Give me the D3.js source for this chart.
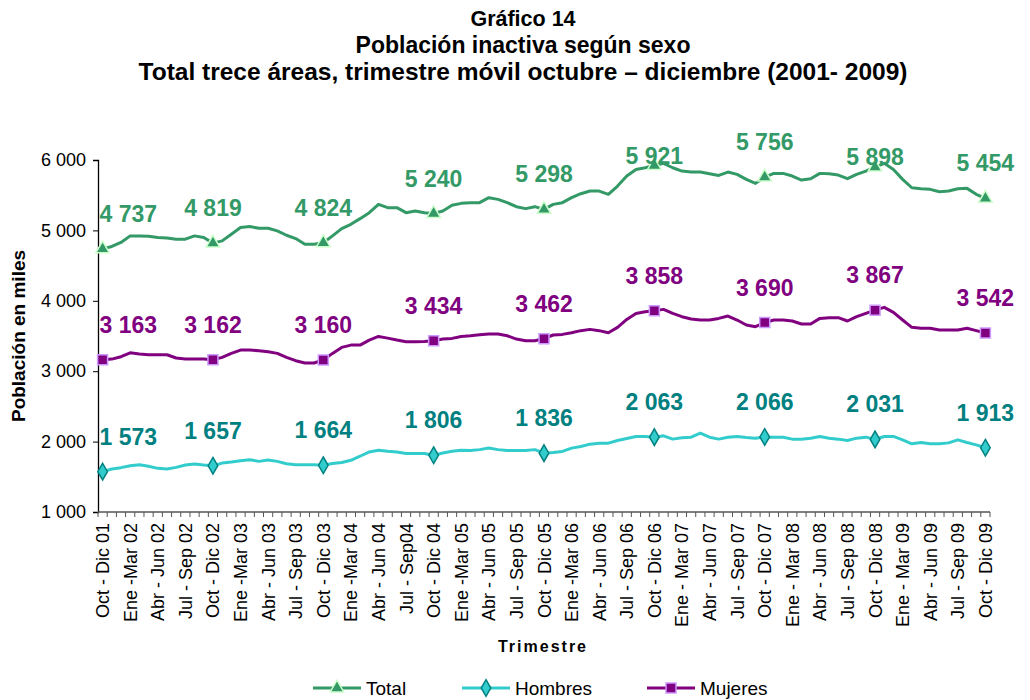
<!DOCTYPE html>
<html>
<head>
<meta charset="utf-8">
<script src="https://cdn.jsdelivr.net/npm/d3@7"></script>
<style>
  body { margin: 0; background: #fff; }
  svg { font-family: "Liberation Sans", Arial, sans-serif; }
</style>
</head>
<body>
<div id="chart"></div>
<script>
// moving quarters, Oct-Dic 2001 .. Oct-Dic 2009 (97 periods, one per month)
const periods = d3.range(97);

const tickLabels = [
  'Oct - Dic 01', 'Ene -Mar 02', 'Abr - Jun 02', 'Jul - Sep 02',
  'Oct - Dic 02', 'Ene -Mar 03', 'Abr - Jun 03', 'Jul - Sep 03',
  'Oct - Dic 03', 'Ene -Mar 04', 'Abr - Jun 04', 'Jul - Sep04',
  'Oct - Dic 04', 'Ene -Mar 05', 'Abr - Jun 05', 'Jul - Sep 05',
  'Oct - Dic 05', 'Ene -Mar 06', 'Abr - Jun 06', 'Jul - Sep 06',
  'Oct - Dic 06', 'Ene - Mar 07', 'Abr - Jun 07', 'Jul - Sep 07',
  'Oct - Dic 07', 'Ene - Mar 08', 'Abr - Jun 08', 'Jul - Sep 08',
  'Oct - Dic 08', 'Ene - Mar 09', 'Abr - Jun 09', 'Jul - Sep 09',
  'Oct - Dic 09'
];

const yTicks = [1000, 2000, 3000, 4000, 5000, 6000];

// miles de personas
const total = [
  4737, 4772, 4829, 4922, 4922, 4917, 4898, 4893, 4875, 4875, 4922, 4898,
  4819, 4851, 4946, 5040, 5054, 5030, 5030, 4993, 4931, 4884, 4804, 4804,
  4824, 4922, 5026, 5087, 5167, 5252, 5370, 5323, 5323, 5252, 5276, 5252,
  5240, 5276, 5356, 5384, 5394, 5394, 5465, 5441, 5394, 5337, 5309, 5337,
  5298, 5370, 5394, 5465, 5521, 5559, 5559, 5512, 5630, 5772, 5866, 5890,
  5921, 5953, 5890, 5843, 5829, 5829, 5805, 5781, 5829, 5796, 5725, 5668,
  5756, 5810, 5810, 5772, 5715, 5734, 5810, 5805, 5786, 5734, 5796, 5843,
  5898, 5953, 5866, 5725, 5606, 5592, 5583, 5550, 5559, 5592, 5597, 5512,
  5454
];

const hombres = [
  1573, 1611, 1630, 1658, 1672, 1649, 1620, 1611, 1634, 1668, 1682, 1668,
  1657, 1695, 1709, 1728, 1743, 1719, 1738, 1719, 1685, 1671, 1671, 1671,
  1664, 1688, 1702, 1735, 1792, 1853, 1877, 1863, 1853, 1830, 1830, 1830,
  1806, 1839, 1863, 1877, 1872, 1886, 1910, 1886, 1872, 1872, 1872, 1886,
  1836, 1845, 1860, 1907, 1931, 1964, 1978, 1978, 2016, 2044, 2073, 2073,
  2063, 2082, 2035, 2054, 2063, 2120, 2063, 2035, 2063, 2073, 2058, 2049,
  2066, 2063, 2063, 2035, 2035, 2049, 2073, 2049, 2035, 2016, 2049, 2063,
  2031, 2073, 2073, 2025, 1968, 1987, 1968, 1968, 1982, 2025, 1987, 1954,
  1913
];

const mujeres = [
  3163, 3172, 3206, 3262, 3243, 3234, 3234, 3234, 3187, 3172, 3172, 3172,
  3162, 3196, 3253, 3300, 3300, 3291, 3277, 3253, 3196, 3149, 3116, 3116,
  3160, 3253, 3338, 3371, 3371, 3442, 3494, 3470, 3442, 3418, 3418, 3423,
  3434, 3456, 3466, 3494, 3504, 3518, 3527, 3527, 3504, 3456, 3432, 3432,
  3462, 3514, 3523, 3547, 3576, 3594, 3576, 3547, 3623, 3736, 3821, 3845,
  3858, 3878, 3821, 3774, 3741, 3727, 3727, 3750, 3784, 3727, 3656, 3632,
  3690, 3727, 3727, 3713, 3670, 3670, 3750, 3760, 3760, 3713, 3774, 3821,
  3867, 3907, 3836, 3727, 3623, 3609, 3609, 3585, 3585, 3585, 3609, 3576,
  3542
];

const seriesNames = ['Total', 'Hombres', 'Mujeres'];

const width = 1030;
const height = 700;
const margin = {top: 160, right: 40, bottom: 188, left: 98};

const styles = {
  Total:   {line: '#339966', fill: '#339966', stroke: '#ccffcc', label: '#339966', symbol: d3.symbolTriangle, size: 80},
  Hombres: {line: '#33cccc', fill: '#33cccc', stroke: '#008080', label: '#008080', symbol: d3.symbolDiamond, size: 80},
  Mujeres: {line: '#800080', fill: '#800080', stroke: '#cc99ff', label: '#800080', symbol: d3.symbolSquare, size: 100}
};

const locale = d3.formatLocale({decimal: ',', thousands: ' ', grouping: [3], currency: ['', '']});
const fmt = locale.format(',d');

const svg = d3.select('#chart').append('svg')
  .attr('width', width)
  .attr('height', height);

// titles
const titles = ['Gráfico 14', 'Población inactiva según sexo',
  'Total trece áreas, trimestre móvil octubre – diciembre (2001- 2009)'];
const titleSizes = [21.5, 23, 24.5];
svg.append('g').selectAll('text')
  .data(titles)
  .join('text')
    .attr('x', 523)
    .attr('y', (d, i) => 26 + i * 27)
    .attr('text-anchor', 'middle')
    .attr('font-size', (d, i) => titleSizes[i])
    .attr('font-weight', 'bold')
    .text(d => d);

const x = d3.scaleBand()
  .domain(periods)
  .range([margin.left, width - margin.right])
  .padding(0);
const xc = i => x(i) + x.bandwidth() / 2;

const y = d3.scaleLinear()
  .domain([1000, 6000])
  .range([height - margin.bottom, margin.top]);

// y axis
const yAxis = svg.append('g')
  .attr('transform', `translate(${margin.left},0)`)
  .call(d3.axisLeft(y).tickValues(yTicks).tickFormat(fmt).tickSize(5).tickPadding(7));
yAxis.select('.domain').attr('stroke', '#000').attr('stroke-width', 1.3);
yAxis.selectAll('.tick line').attr('stroke', '#000');
yAxis.selectAll('.tick text')
  .attr('font-size', 18)
  .attr('font-family', '"Liberation Sans", Arial, sans-serif');

svg.append('text')
  .attr('transform', `translate(25,${(margin.top + height - margin.bottom) / 2}) rotate(-90)`)
  .attr('text-anchor', 'middle')
  .attr('font-size', 19)
  .attr('font-weight', 'bold')
  .text('Población en miles');

// x axis: tick at every month boundary, label every third period
const xBase = height - margin.bottom;
const xg = svg.append('g');
xg.append('line')
  .attr('x1', margin.left).attr('x2', width - margin.right)
  .attr('y1', xBase).attr('y2', xBase)
  .attr('stroke', '#555').attr('stroke-width', 1.5);
xg.selectAll('line.tk')
  .data(periods.concat([periods.length]))
  .join('line')
    .attr('class', 'tk')
    .attr('x1', i => margin.left + i * x.bandwidth())
    .attr('x2', i => margin.left + i * x.bandwidth())
    .attr('y1', xBase)
    .attr('y2', xBase + 5)
    .attr('stroke', '#555');
xg.selectAll('text')
  .data(tickLabels)
  .join('text')
    .attr('transform', (d, k) => `translate(${xc(k * 3) + 6.5},${xBase + 11}) rotate(-90)`)
    .attr('text-anchor', 'end')
    .attr('font-size', 18)
    .text(d => d);

svg.append('text')
  .attr('x', 543)
  .attr('y', 652)
  .attr('text-anchor', 'middle')
  .attr('font-size', 16)
  .attr('font-weight', 'bold')
  .attr('letter-spacing', 2)
  .text('Trimestre');

// series
const seriesData = {Total: total, Hombres: hombres, Mujeres: mujeres};
const line = d3.line()
  .x((d, i) => xc(i))
  .y(d => y(d));

seriesNames.forEach(name => {
  const values = seriesData[name];
  const st = styles[name];
  const g = svg.append('g');

  g.append('path')
    .datum(values)
    .attr('d', line)
    .attr('fill', 'none')
    .attr('stroke', st.line)
    .attr('stroke-width', 3)
    .attr('stroke-linejoin', 'round');

  const marked = periods.filter(i => i % 12 === 0);

  g.selectAll('path.mk')
    .data(marked)
    .join('path')
      .attr('class', 'mk')
      .attr('transform', i => `translate(${xc(i)},${y(values[i])})`)
      .attr('d', d3.symbol(st.symbol, st.size))
      .attr('fill', st.fill)
      .attr('stroke', st.stroke)
      .attr('stroke-width', 1.5);

  g.selectAll('text')
    .data(marked)
    .join('text')
      .attr('x', i => i === 0 ? xc(i) - 3 : xc(i))
      .attr('y', i => {
        let cy = y(values[i]) - 35;
        if (cy < 140) cy = y(values[i]) - 10;
        return cy + 8;
      })
      .attr('text-anchor', i => i === 0 ? 'start' : 'middle')
      .attr('font-size', 23)
      .attr('font-weight', 'bold')
      .attr('fill', st.label)
      .text(i => fmt(values[i]));
});

// legend
const legendX = [313, 462, 647];
const legend = svg.append('g');
seriesNames.forEach((name, k) => {
  const st = styles[name];
  const lg = legend.append('g').attr('transform', `translate(${legendX[k]},688)`);
  lg.append('line')
    .attr('x1', 0).attr('x2', 48)
    .attr('stroke', st.line).attr('stroke-width', 3);
  lg.append('path')
    .attr('transform', 'translate(24,0)')
    .attr('d', d3.symbol(st.symbol, st.size))
    .attr('fill', st.fill)
    .attr('stroke', st.stroke)
    .attr('stroke-width', 1.5);
  lg.append('text')
    .attr('x', 53)
    .attr('y', 7)
    .attr('font-size', 19)
    .text(name);
});
</script>
</body>
</html>
